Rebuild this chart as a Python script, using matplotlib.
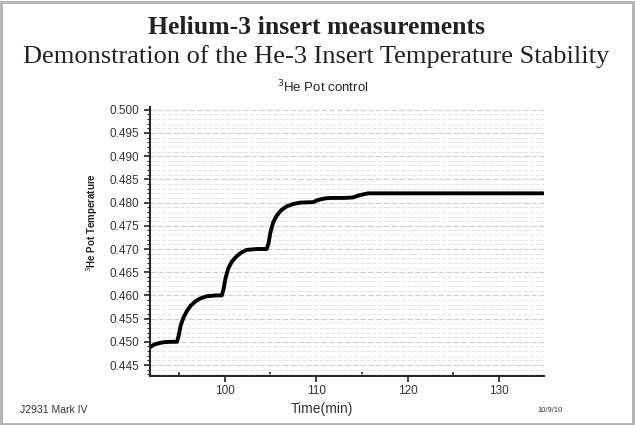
import matplotlib
matplotlib.use("Agg")
import matplotlib.pyplot as plt
from matplotlib.ticker import MultipleLocator
from matplotlib.patches import Rectangle

# Data (time in min, temperature)
time_min = [91.9, 92.3, 92.8, 93.3, 94.0, 94.8, 95.0, 95.2, 95.5, 95.9, 96.3, 96.8, 97.3, 98.0, 99.0, 99.7,
            99.9, 100.1, 100.4, 100.8, 101.3, 101.8, 102.4, 103.5, 104.6,
            104.8, 105.0, 105.3, 105.7, 106.2, 106.8, 107.5, 108.3, 109.7,
            110.1, 110.5, 111.0, 111.5, 113.0, 114.0, 114.6, 115.2, 115.7, 118.0, 122.0, 126.0, 130.0, 134.8]
temperature = [0.4489, 0.4494, 0.4497, 0.4499, 0.4500, 0.4500, 0.4515, 0.4535, 0.4552, 0.4567, 0.4578, 0.4587, 0.4593, 0.4598, 0.4600, 0.4600,
               0.4615, 0.4637, 0.4658, 0.4673, 0.4684, 0.4692, 0.4698, 0.4700, 0.4700,
               0.4712, 0.4735, 0.4757, 0.4772, 0.4784, 0.4792, 0.4797, 0.4800, 0.4801,
               0.4805, 0.4807, 0.4809, 0.4810, 0.4810, 0.4811, 0.4815, 0.4818, 0.4820, 0.4820, 0.4820, 0.4820, 0.4820, 0.4820]

x_ticks = [100, 110, 120, 130]
y_ticks = [0.445, 0.450, 0.455, 0.460, 0.465, 0.470, 0.475, 0.480, 0.485, 0.490, 0.495, 0.500]

fig = plt.figure(figsize=(6.35, 4.25), dpi=100)
fig.patch.set_facecolor("white")

ax = fig.add_axes([150/635, 1-375.7/425, (544-150)/635, (375.7-107)/425])
ax.plot(time_min, temperature, color="black", lw=2.8, solid_joinstyle="round", solid_capstyle="round")
ax.set_xlim(91.85, 134.9)
ax.set_ylim(0.4427, 0.5006)

ax.set_xticks(x_ticks)
ax.set_yticks(y_ticks)
ax.xaxis.set_minor_locator(MultipleLocator(5))
ax.yaxis.set_minor_locator(MultipleLocator(0.001))
ax.set_yticklabels([f"{v:.3f}" for v in y_ticks])

ax.grid(True, which="major", axis="y", color="#cccccc", lw=0.8, ls=(0, (5, 2)))
ax.grid(True, which="minor", axis="y", color="#e0e0e0", lw=0.6, ls=(0, (5, 2)))
ax.set_axisbelow(True)

for side in ["top", "right"]:
    ax.spines[side].set_visible(False)
for side in ["left", "bottom"]:
    ax.spines[side].set_linewidth(1.4)
    ax.spines[side].set_color("#222222")

ax.tick_params(axis="both", which="major", direction="out", length=4, width=1.2, colors="#222222",
               labelsize=8.5, labelcolor="#333333")
ax.tick_params(axis="y", which="minor", direction="out", length=2, width=0.8, colors="#222222")
ax.tick_params(axis="x", which="minor", direction="in", length=3, width=1.2, colors="#222222")
ax.tick_params(axis="x", which="major", pad=3)
for lbl in ax.get_xticklabels() + ax.get_yticklabels():
    lbl.set_family(["Liberation Sans", "DejaVu Sans"])

fig.text(317/635, 1-27/425, "Helium-3 insert measurements", ha="center", va="center",
         family="Liberation Serif", fontweight="bold", fontsize=18.5, color="#222222")
fig.text(316/635, 1-57/425, "Demonstration of the He-3 Insert Temperature Stability", ha="center", va="center",
         family="Liberation Serif", fontsize=19, color="#222222")
fig.text(323/635, 1-87/425, r"$^{3}$He Pot control", ha="center", va="center",
         family="Liberation Sans", fontsize=9.5, color="#222222")
fig.text(92/635, 1-222/425, r"$^{3}$He Pot Temperature", ha="center", va="center", rotation=90,
         family="Liberation Sans", fontweight="bold", fontsize=7, color="#222222")
fig.text(322/635, 1-409/425, "Time(min)", ha="center", va="center",
         family="Liberation Sans", fontsize=10, color="#333333")
fig.text(20/635, 1-410/425, "J2931 Mark IV", ha="left", va="center",
         family="Liberation Sans", fontsize=7.5, color="#333333")
fig.text(550/635, 1-411/425, "10/9/10", ha="center", va="center",
         family="Liberation Sans", fontsize=5.5, color="#333333")

# grey frame around the picture
fig.add_artist(Rectangle((1/635, 1/425), 632/635, 422/425, transform=fig.transFigure,
                         fill=False, edgecolor="#b0b0b0", lw=2))

fig.savefig("out.png", dpi=100)
